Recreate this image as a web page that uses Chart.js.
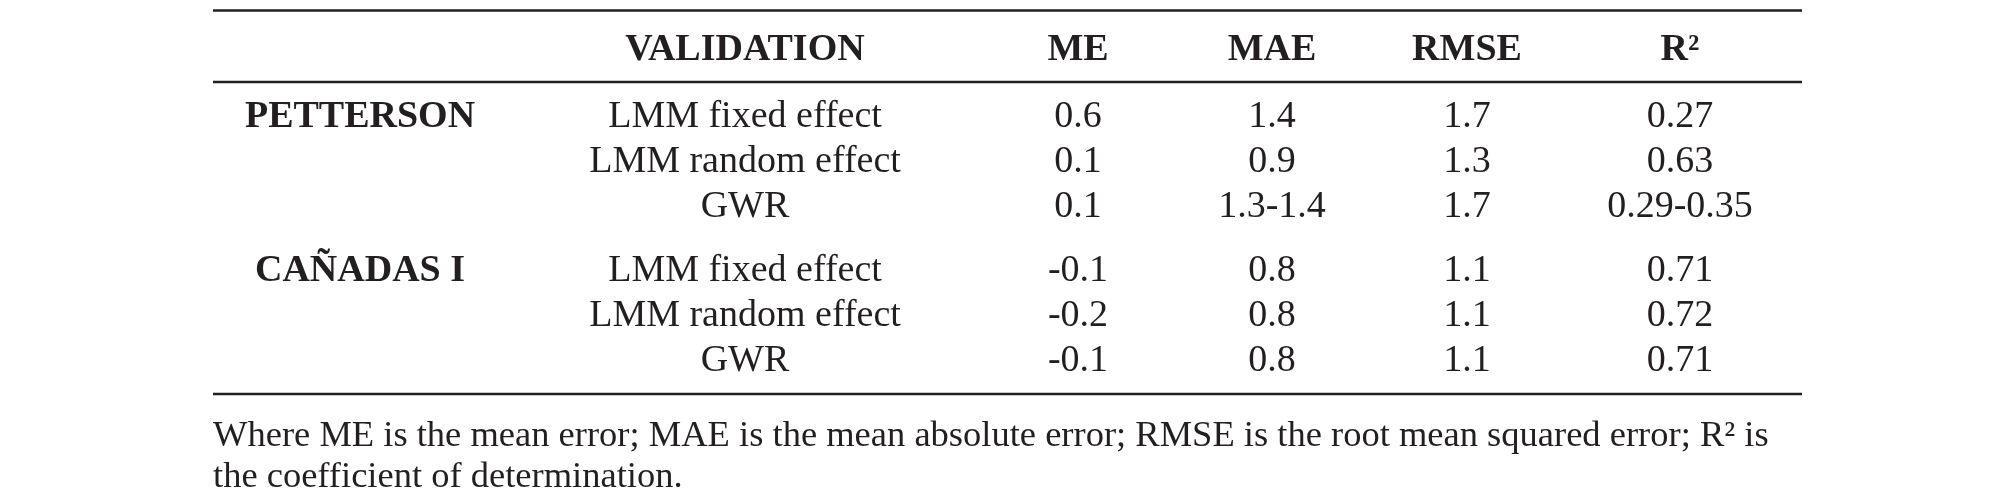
<!DOCTYPE html>
<html>
<head>
<meta charset="utf-8">
<title>Validation table</title>
<script src="https://cdn.jsdelivr.net/npm/chart.js@4"></script>
<style>
  html, body { margin: 0; padding: 0; background: #fff; }
  #wrap { width: 2012px; height: 499px; position: relative; }
</style>
</head>
<body>
<div id="wrap"><canvas id="table-chart"></canvas></div>
<script>
// table content
const headers = ['VALIDATION', 'ME', 'MAE', 'RMSE', 'R²'];
const groups = ['PETTERSON', 'CAÑADAS I'];
const methods = ['LMM fixed effect', 'LMM random effect', 'GWR'];
const meValues = ['0.6', '0.1', '0.1', '-0.1', '-0.2', '-0.1'];
const maeValues = ['1.4', '0.9', '1.3-1.4', '0.8', '0.8', '0.8'];
const rmseValues = ['1.7', '1.3', '1.7', '1.1', '1.1', '1.1'];
const r2Values = ['0.27', '0.63', '0.29-0.35', '0.71', '0.72', '0.71'];
const footnoteLines = [
    'Where ME is the mean error; MAE is the mean absolute error; RMSE is the root mean squared error; R² is',
    'the coefficient of determination.'
];

// layout (pixel units of the hidden scales)
const colX = [360, 745, 1078, 1272, 1467, 1680];
const headerY = 60;
const firstRowY = 127;
const rowStep = 45;
const groupStep = 154;
const rulesY = [10.5, 82, 394];
const ruleLeft = 213;
const ruleRight = 1802;
const footX = 213;
const footY = [446, 487];
const ink = '#231f20';
const fontFamily = '"Liberation Serif", "Times New Roman", serif';

function rowY(index) {
    const g = Math.floor(index / methods.length);
    const m = index % methods.length;
    return firstRowY + g * groupStep + m * rowStep;
}

function textSet(points, weight, size, align) {
    return {
        type: 'scatter',
        data: points,
        pointRadius: 0,
        pointHoverRadius: 0,
        cellFont: weight + ' ' + size + 'px ' + fontFamily,
        cellAlign: align
    };
}

function ruleSet(y) {
    return {
        type: 'line',
        data: [{x: ruleLeft, y: y}, {x: ruleRight, y: y}],
        borderColor: ink,
        borderWidth: 2.6,
        pointRadius: 0,
        fill: false
    };
}

const headerPoints = headers.map((h, i) => ({x: colX[i + 1], y: headerY, t: h}));
const groupPoints = groups.map((g, i) => ({x: colX[0], y: rowY(i * methods.length), t: g}));
const bodyPoints = [];
[meValues, maeValues, rmseValues, r2Values].forEach((col, c) => {
    col.forEach((v, r) => bodyPoints.push({x: colX[c + 2], y: rowY(r), t: v}));
});
meValues.forEach((v, r) => {
    bodyPoints.push({x: colX[1], y: rowY(r), t: methods[r % methods.length]});
});
const footPoints = footnoteLines.map((line, i) => ({x: footX, y: footY[i], t: line}));

const cellText = {
    id: 'cellText',
    afterDatasetsDraw(chart) {
        const ctx = chart.ctx;
        chart.data.datasets.forEach((ds, i) => {
            if (!ds.cellFont) return;
            const meta = chart.getDatasetMeta(i);
            ctx.save();
            ctx.fillStyle = ink;
            ctx.font = ds.cellFont;
            ctx.textAlign = ds.cellAlign;
            ctx.textBaseline = 'alphabetic';
            meta.data.forEach((el, j) => {
                ctx.fillText(ds.data[j].t, el.x, el.y);
            });
            ctx.restore();
        });
    }
};

new Chart(document.getElementById('table-chart'), {
    data: {
        datasets: [
            ...rulesY.map(ruleSet),
            textSet(headerPoints, 'bold', 38, 'center'),
            textSet(groupPoints, 'bold', 38, 'center'),
            textSet(bodyPoints, 'normal', 38, 'center'),
            textSet(footPoints, 'normal', 36.5, 'left')
        ]
    },
    options: {
        responsive: true,
        maintainAspectRatio: false,
        animation: false,
        events: [],
        layout: { padding: 0 },
        scales: {
            x: { type: 'linear', min: 0, max: 2012, display: false },
            y: { type: 'linear', min: 0, max: 499, reverse: true, display: false }
        },
        plugins: {
            legend: { display: false },
            tooltip: { enabled: false },
            title: { display: false }
        }
    },
    plugins: [cellText]
});
</script>
</body>
</html>
